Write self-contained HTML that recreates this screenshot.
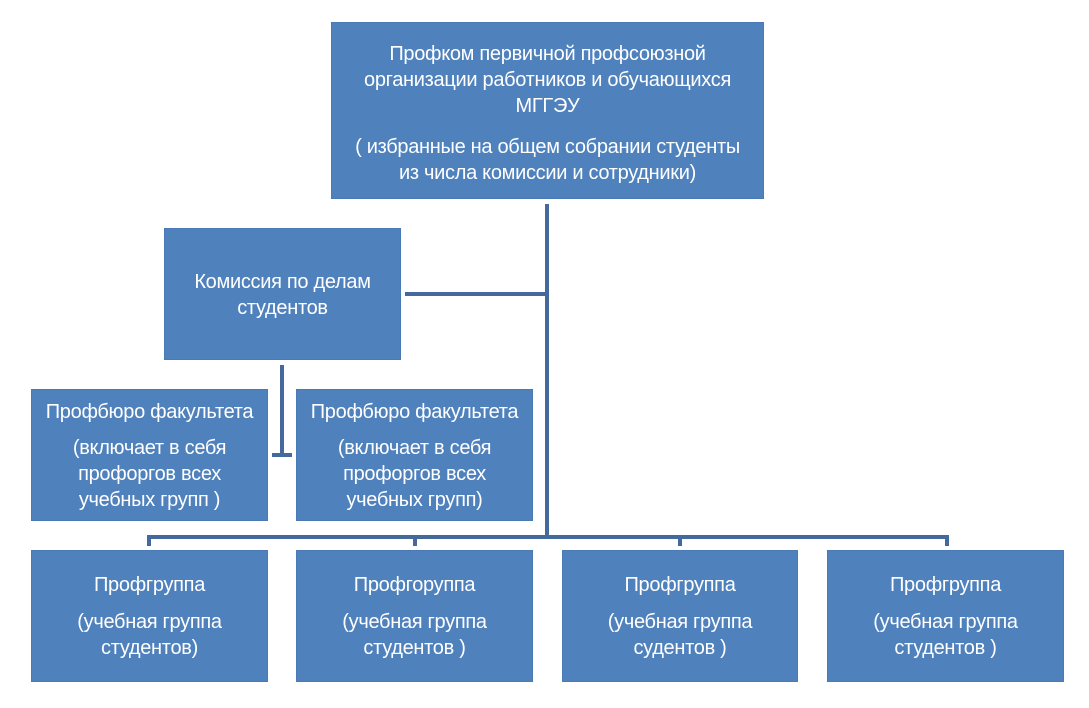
<!DOCTYPE html>
<html><head><meta charset="utf-8"><style>
body{margin:0;width:1089px;height:708px;background:#fff;position:relative;overflow:hidden;font-family:"Liberation Sans","DejaVu Sans",sans-serif;}
.b{position:absolute;background:#4f81bd;border:1px solid #4a7ab5;color:#fff;text-align:center;font-size:20px;line-height:26px;box-sizing:border-box;white-space:nowrap;letter-spacing:-0.3px}
.b p{margin:0}
.l{position:absolute;background:#44699d;}
</style></head><body>
<div class="b" style="left:331px;top:22px;width:433px;height:177px;padding-top:18px">
<p>Профком первичной профсоюзной<br>организации работников и обучающихся<br>МГГЭУ</p>
<p style="margin-top:15px">( избранные на общем собрании студенты<br>из числа комиссии и сотрудники)</p></div>
<div class="b" style="left:164px;top:228px;width:237px;height:132px;padding-top:40px"><p>Комиссия по делам<br>студентов</p></div>
<div class="b" style="left:31px;top:389px;width:237px;height:132px;padding-top:9px"><p>Профбюро факультета</p><p style="margin-top:10px">(включает в себя<br>профоргов всех<br>учебных групп )</p></div>
<div class="b" style="left:296px;top:389px;width:237px;height:132px;padding-top:9px"><p>Профбюро факультета</p><p style="margin-top:10px">(включает в себя<br>профоргов всех<br>учебных групп)</p></div>
<div class="b" style="left:31px;top:550px;width:237px;height:132px;padding-top:21px"><p>Профгруппа</p><p style="margin-top:11px">(учебная группа<br>студентов)</p></div>
<div class="b" style="left:296px;top:550px;width:237px;height:132px;padding-top:21px"><p>Профгоруппа</p><p style="margin-top:11px">(учебная группа<br>студентов )</p></div>
<div class="b" style="left:562px;top:550px;width:236px;height:132px;padding-top:21px"><p>Профгруппа</p><p style="margin-top:11px">(учебная группа<br>судентов )</p></div>
<div class="b" style="left:827px;top:550px;width:237px;height:132px;padding-top:21px"><p>Профгруппа</p><p style="margin-top:11px">(учебная группа<br>студентов )</p></div>
<div class="l" style="left:545px;top:204px;width:4px;height:334px"></div>
<div class="l" style="left:405px;top:292px;width:142px;height:4px"></div>
<div class="l" style="left:280px;top:365px;width:4px;height:92px"></div>
<div class="l" style="left:272px;top:453px;width:20px;height:4px"></div>
<div class="l" style="left:147px;top:535px;width:802px;height:4px"></div>
<div class="l" style="left:147px;top:535px;width:4px;height:11px"></div>
<div class="l" style="left:413px;top:535px;width:4px;height:11px"></div>
<div class="l" style="left:678px;top:535px;width:4px;height:11px"></div>
<div class="l" style="left:945px;top:535px;width:4px;height:11px"></div>
</body></html>
